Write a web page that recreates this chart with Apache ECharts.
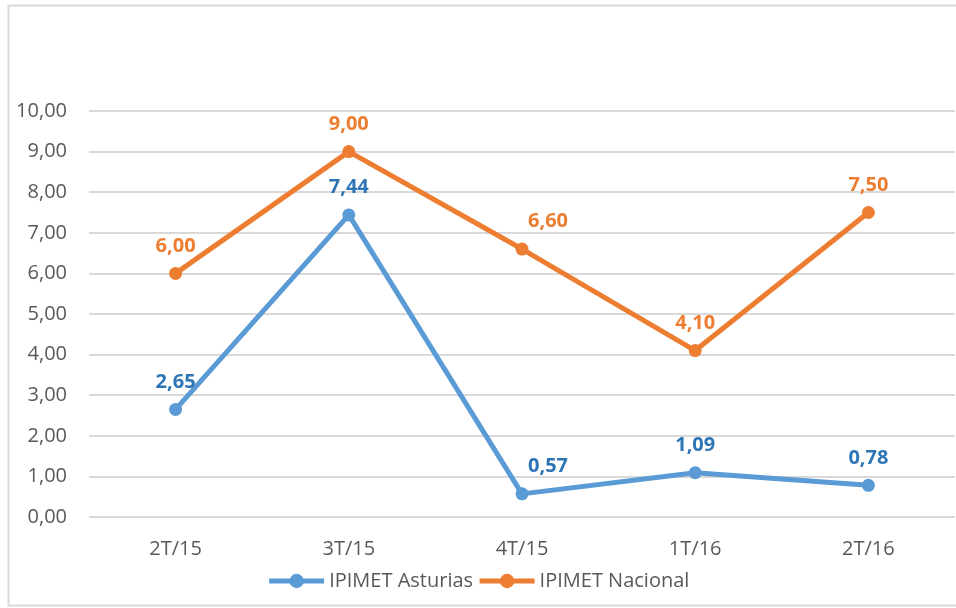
<!DOCTYPE html>
<html><head><meta charset="utf-8">
<script src="https://cdn.jsdelivr.net/npm/echarts@6/dist/echarts.min.js"></script>
<style>html,body{margin:0;padding:0;background:#fff}#c{width:956px;height:608px}</style>
</head><body><div id="c"></div>
<script>
const categories = ['2T/15', '3T/15', '4T/15', '1T/16', '2T/16'];
const asturias = [2.65, 7.44, 0.57, 1.09, 0.78];
const nacional = [6.00, 9.00, 6.60, 4.10, 7.50];
const seriesNames = ['IPIMET Asturias', 'IPIMET Nacional'];

const fmt = v => Number(v).toFixed(2).replace('.', ',');
const FONT = '"Open Sans", "Liberation Sans", sans-serif';

function mkData(vals) {
  return vals.map((v, i) => i === 2 ? { value: v, label: { offset: [26, 0] } } : v);
}

const chart = echarts.init(document.getElementById('c'));
chart.setOption({
  backgroundColor: '#fff',
  animation: false,
  graphic: [{ type: 'rect', shape: { x: 8.5, y: 5.5, width: 960, height: 600 }, style: { fill: 'none', stroke: '#D9D9D9', lineWidth: 2 } }],
  grid: { left: 89, right: 1, top: 111, bottom: 91 },
  legend: {
    bottom: 12, left: 'center', itemWidth: 55, itemHeight: 18, itemGap: 4,
    lineStyle: { width: 5 },
    textStyle: { fontFamily: FONT, fontSize: 20, color: '#595959' },
    data: seriesNames
  },
  xAxis: {
    type: 'category', data: categories,
    axisLine: { show: false }, axisTick: { show: false },
    axisLabel: { fontFamily: FONT, fontSize: 20, color: '#595959', margin: 22 }
  },
  yAxis: {
    type: 'value', min: 0, max: 10, interval: 1,
    axisLine: { show: false }, axisTick: { show: false },
    splitLine: { lineStyle: { color: '#D9D9D9', width: 2 } },
    axisLabel: { fontFamily: FONT, fontSize: 20, color: '#595959', margin: 22, formatter: fmt }
  },
  series: [
    {
      name: seriesNames[0], type: 'line', data: mkData(asturias),
      color: '#5B9BD5', lineStyle: { width: 5 }, symbol: 'circle', symbolSize: 13,
      label: { show: true, position: 'top', distance: 11, formatter: p => fmt(p.value), fontFamily: FONT, fontSize: 20, fontWeight: 'bold', color: '#2E75B6' }
    },
    {
      name: seriesNames[1], type: 'line', data: mkData(nacional),
      color: '#ED7D31', lineStyle: { width: 5 }, symbol: 'circle', symbolSize: 13,
      label: { show: true, position: 'top', distance: 11, formatter: p => fmt(p.value), fontFamily: FONT, fontSize: 20, fontWeight: 'bold', color: '#ED7D31' }
    }
  ]
});
</script></body></html>
